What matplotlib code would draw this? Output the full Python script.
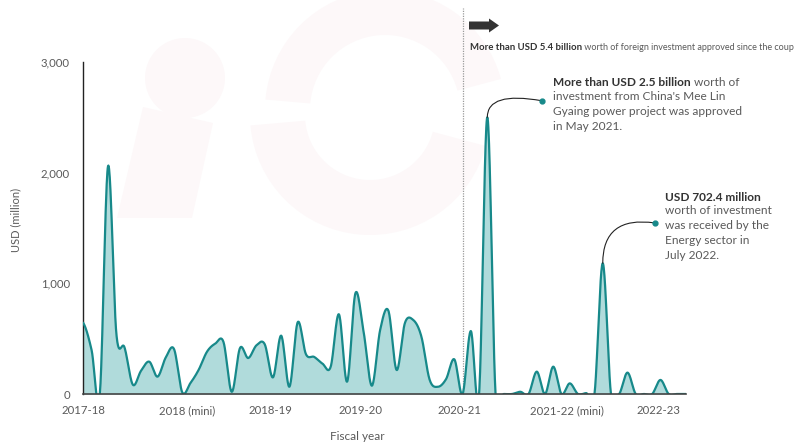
"""Monthly approved foreign investment in Myanmar, Apr 2017 - May 2023."""
import numpy as np
import matplotlib.pyplot as plt
from matplotlib.patches import Circle, Polygon, Wedge

plt.rcParams["font.family"] = ["Lato", "DejaVu Sans"]

# monthly values (USD million), index 0 = April 2017
VALUES = [
    641, 398, 0, 2060, 551, 420, 85, 210, 292, 157,
    330, 406, 15, 100, 220, 382, 455, 470, 20, 415,
    325, 440, 450, 150, 527, 66, 648, 360, 335, 275,
    245, 720, 112, 910, 560, 75, 578, 753, 217, 640,
    670, 520, 130, 65, 135, 313, 0, 569, 0, 2500,
    0, 0, 0, 20, 0, 202, 0, 247, 0, 96,
    0, 8, 0, 1181, 0, 0, 193, 0, 0, 0,
    127, 0, 0, 0,
]
TICK_LABELS = ["2017-18", "2018 (mini)", "2018-19", "2019-20", "2020-21",
               "2021-22 (mini)", "2022-23"]
TICK_POS = [0, 12.65, 22.65, 33.6, 45.6, 58.7, 69.7]
COUP_IDX = 46          # February 2021
MAY21_IDX = 49
JUL22_IDX = 63

LINE = "#17898a"
FILL = "#b0dbdb"
DARK = "#333333"
GREY = "#5a5a5a"
WM = "#fdf8f9"


def catmull_rom(y, n=24):
    y = np.asarray(y, float)
    p = np.concatenate([[y[0]], y, [y[-1]]])
    xs, ys = [], []
    t = np.linspace(0, 1, n, endpoint=False)
    for i in range(len(y) - 1):
        p0, p1, p2, p3 = p[i], p[i + 1], p[i + 2], p[i + 3]
        yy = 0.5 * ((2 * p1) + (-p0 + p2) * t + (2 * p0 - 5 * p1 + 4 * p2 - p3) * t ** 2
                    + (-p0 + 3 * p1 - 3 * p2 + p3) * t ** 3)
        xs.append(i + t)
        ys.append(yy)
    xs.append([len(y) - 1])
    ys.append([y[-1]])
    return np.concatenate(xs), np.concatenate(ys)


fig = plt.figure(figsize=(8.03, 4.44), dpi=100)
ax = fig.add_axes([83 / 803, 50 / 444, 603 / 803, 332 / 444])
ax.set_facecolor("none")
ax.set_zorder(2)


# faint watermark logo in the background (pixel coords from top-left)
def px(x, y):
    return (x / 100, (444 - y) / 100)


wm = dict(facecolor=WM, edgecolor="none", zorder=-10, transform=fig.dpi_scale_trans)
fig.patches.append(Circle(px(185, 78), 0.40, **wm))
fig.patches.append(Polygon([px(143, 107), px(213, 123), px(192, 218), px(117, 218)], **wm))
fig.patches.append(Wedge(px(385, 110), 1.2, 15, 175, width=0.45, **wm))
fig.patches.append(Wedge(px(370, 115), 1.2, 185, 345, width=0.55, **wm))

xs, ys = catmull_rom(VALUES)
ax.fill_between(xs, ys, 0, color=FILL, lw=0, zorder=2)
ax.plot(xs, ys, color=LINE, lw=1.6, zorder=3, solid_joinstyle="round")

ax.set_xlim(-0.04, 73.1)
ax.set_ylim(0, 3000)
ax.set_yticks([0, 1000, 2000, 3000])
ax.set_yticklabels(["0", "1,000", "2,000", "3,000"])
ax.set_xticks(TICK_POS)
ax.set_xticklabels(TICK_LABELS)
ax.tick_params(length=0, labelsize=8.2, colors=GREY, pad=8)
ax.tick_params(axis="y", pad=9.5)
for s in ["top", "right"]:
    ax.spines[s].set_visible(False)
ax.spines["left"].set_color("#222222")
ax.spines["bottom"].set_color("#444444")
ax.spines["left"].set_linewidth(1)
ax.spines["bottom"].set_linewidth(1.2)
ax.spines["bottom"].set_zorder(4)
ax.set_ylabel("USD (million)", fontsize=8, color=GREY)
ax.yaxis.set_label_coords((21 - 83) / 603, (394 - 220) / 332)
ax.set_xlabel("Fiscal year", fontsize=8.5, color=GREY)
ax.xaxis.set_label_coords((357 - 83) / 603, -(431 - 394) / 332)

# coup marker
ax.axvline(COUP_IDX, ymin=0, ymax=(394 - 8) / 332, color="#9a9a9a", lw=0.9,
           ls=(0, (1, 1)), clip_on=False, zorder=1)
arrow = [px(469, 21.5), px(489, 21.5), px(489, 18.5), px(499, 25.5),
         px(489, 32.5), px(489, 29.5), px(469, 29.5)]
fig.patches.append(Polygon(arrow, facecolor="#333333", edgecolor="none",
                           transform=fig.dpi_scale_trans))
t0 = fig.text(470 / 803, 1 - 47 / 444, "More than USD 5.4 billion", fontsize=6.9,
              fontweight="bold", color=DARK, va="center")
ax.annotate(" worth of foreign investment approved since the coup", xy=(1, 0.5),
            xycoords=t0, va="center", ha="left", fontsize=6.5, color=GREY)

# annotation: Mee Lin Gyaing
pk1 = (MAY21_IDX, VALUES[MAY21_IDX])
d1 = (MAY21_IDX + 6.6, VALUES[MAY21_IDX] + 150)
ax.annotate("", xy=pk1, xytext=d1,
            arrowprops=dict(arrowstyle="-", color="#222222", lw=0.8,
                            connectionstyle="angle3,angleA=-10,angleB=90",
                            shrinkA=0, shrinkB=0))
ax.plot(*d1, "o", color=LINE, ms=3.5, clip_on=False, zorder=5)
t1 = fig.text(553 / 803, 1 - 83 / 444, "More than USD 2.5 billion", fontsize=8.6,
              fontweight="bold", color=DARK, va="center")
ax.annotate(" worth of", xy=(1, 0.5), xycoords=t1, va="center", ha="left",
            fontsize=8.6, color=GREY)
fig.text(553 / 803, 1 - 91 / 444,
         "investment from China's Mee Lin\nGyaing power project was approved\nin May 2021.",
         fontsize=8.6, color=GREY, va="top", linespacing=1.45)

# annotation: energy sector
pk2 = (JUL22_IDX, VALUES[JUL22_IDX])
d2 = (JUL22_IDX + 6.3, VALUES[JUL22_IDX] + 365)
ax.annotate("", xy=pk2, xytext=d2,
            arrowprops=dict(arrowstyle="-", color="#222222", lw=0.8,
                            connectionstyle="angle3,angleA=-8,angleB=90",
                            shrinkA=0, shrinkB=0))
ax.plot(*d2, "o", color=LINE, ms=3.5, clip_on=False, zorder=5)
fig.text(665 / 803, 1 - 197 / 444, "USD 702.4 million", fontsize=8.6,
         fontweight="bold", color=DARK, va="center")
fig.text(665 / 803, 1 - 205 / 444,
         "worth of investment\nwas received by the\nEnergy sector in\nJuly 2022.",
         fontsize=8.6, color=GREY, va="top", linespacing=1.45)

fig.savefig("out.png", dpi=100)
